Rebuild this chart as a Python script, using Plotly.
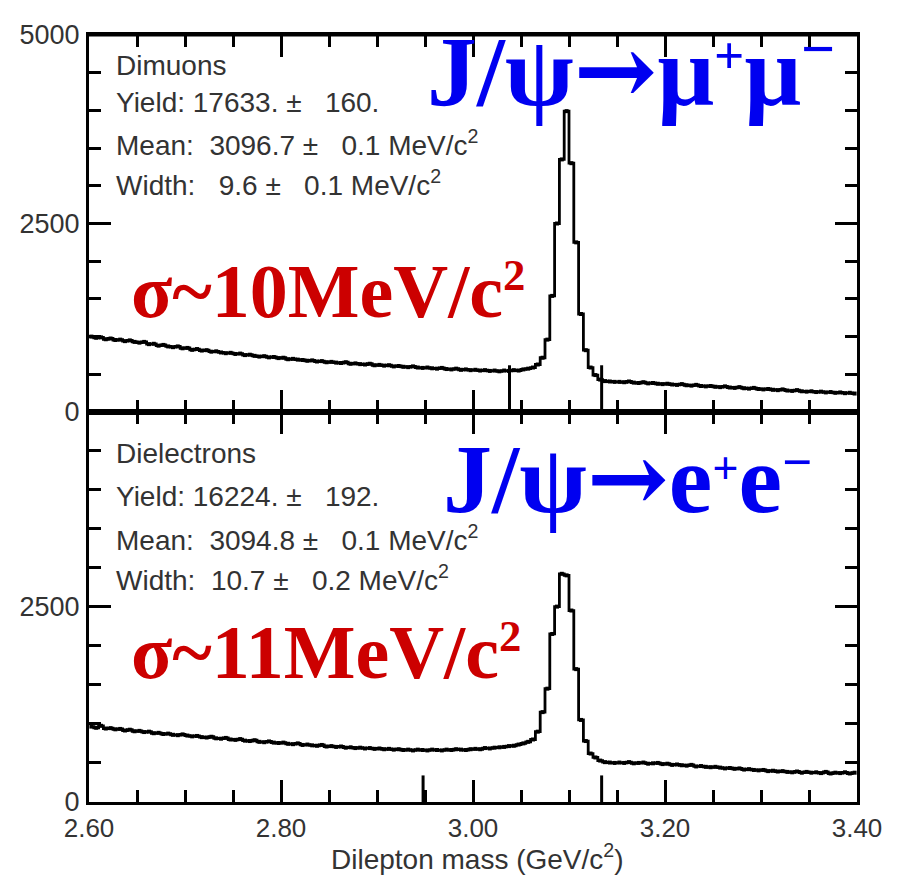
import plotly.graph_objects as go

# ---------------- data ----------------
bin_width = 0.005
mass_lo = 2.60
n_bins = 160

dimuon_counts = [
    1000, 985, 990, 965, 975, 955, 960, 940, 950, 930,
    920, 930, 900, 905, 880, 890, 870, 860, 870, 845,
    850, 825, 835, 815, 820, 800, 805, 790, 780, 785,
    770, 775, 755, 760, 745, 735, 740, 725, 730, 715,
    720, 700, 705, 695, 690, 680, 685, 670, 675, 660,
    665, 655, 650, 660, 640, 645, 635, 630, 640, 620,
    625, 615, 620, 605, 610, 600, 595, 605, 590, 585,
    590, 580, 575, 585, 570, 565, 575, 560, 565, 555,
    560, 550, 555, 545, 550, 540, 550, 545, 555, 550,
    565, 575, 590, 630, 720, 960, 1540, 2500, 3350, 3990,
    3300, 2250, 1300, 820, 590, 490, 430, 410, 405, 400,
    400, 395, 405, 390, 385, 395, 380, 385, 375, 370,
    375, 365, 360, 370, 355, 350, 360, 345, 340, 345,
    335, 330, 340, 325, 320, 330, 315, 310, 320, 305,
    300, 305, 295, 290, 300, 285, 280, 290, 275, 270,
    275, 265, 270, 260, 265, 255, 260, 250, 255, 245,
]

dielectron_counts = [
    965, 950, 975, 940, 945, 930, 935, 915, 925, 905,
    910, 895, 900, 880, 885, 870, 875, 860, 855, 865,
    850, 840, 845, 830, 825, 835, 815, 810, 820, 800,
    795, 805, 785, 780, 790, 770, 765, 775, 760, 755,
    760, 745, 740, 750, 730, 735, 725, 720, 730, 710,
    715, 705, 710, 695, 700, 690, 695, 685, 690, 680,
    685, 675, 680, 670, 675, 665, 670, 660, 670, 665,
    660, 670, 665, 660, 670, 665, 675, 670, 665, 675,
    680, 675, 690, 685, 695, 700, 705, 715, 720, 735,
    750, 770, 800, 900, 1150, 1450, 2150, 2500, 2920, 2900,
    2450, 1700, 1050, 780, 620, 570, 530, 510, 505, 500,
    505, 500, 510, 495, 500, 505, 490, 495, 500, 485,
    490, 475, 480, 470, 465, 475, 455, 460, 450, 445,
    450, 440, 430, 435, 425, 430, 415, 420, 410, 405,
    410, 395, 400, 390, 395, 385, 380, 390, 375, 385,
    375, 380, 370, 385, 365, 375, 370, 380, 365, 375,
]

# fit-window markers (mass, marker height)
mu_marks_x = [3.038, 3.134]
mu_marks_h = 620
ee_marks_x = [2.948, 3.134]
ee_marks_h = 340

x_ticks = [2.60, 2.80, 3.00, 3.20, 3.40]
x_tick_labels = ["2.60", "2.80", "3.00", "3.20", "3.40"]
y_ticks = [0, 2500, 5000]
y_tick_labels = ["0", "2500", "5000"]

NB = "\u00a0"
mu_stats = ["Dimuons",
            f"Yield: 17633.{NB}±{NB*3}160.",
            f"Mean:{NB*2}3096.7{NB}±{NB*3}0.1 MeV/c<sup>2</sup>",
            f"Width:{NB*3}9.6{NB}±{NB*3}0.1 MeV/c<sup>2</sup>"]
ee_stats = ["Dielectrons",
            f"Yield: 16224.{NB}±{NB*3}192.",
            f"Mean:{NB*2}3094.8{NB}±{NB*3}0.1 MeV/c<sup>2</sup>",
            f"Width:{NB*2}10.7{NB}±{NB*3}0.2 MeV/c<sup>2</sup>"]

centers = [mass_lo + bin_width * (i + 0.5) for i in range(n_bins)]

# ---------------- figure ----------------
OFF = 8                                   # page body margin
W, H = 902 - 2 * OFF, 885 - 2 * OFF
PL, PR, PT, PB = 88, 862, 33, 802         # expected plot area in screenshot pixels
L, R, T, B = PL - OFF, (W + OFF) - PR, PT - OFF, (H + OFF) - PB
PW, PH = PR - PL, PB - PT
MID = 411                                 # boundary between the two panels
split = (PB - MID) / PH


def px(xp):
    return (xp - PL) / PW


def py(yp):
    return (PB - yp) / PH


fig = go.Figure()

for counts, xa, ya in [(dimuon_counts, "x", "y"), (dielectron_counts, "x2", "y2")]:
    fig.add_trace(go.Scatter(
        x=centers, y=counts, xaxis=xa, yaxis=ya,
        mode="lines+markers", line=dict(color="black", width=2.8, shape="hvh"),
        marker=dict(color="black", size=4, symbol="square"),
        showlegend=False, hoverinfo="skip"))

for marks, h, xa, ya in [(mu_marks_x, mu_marks_h, "x", "y"), (ee_marks_x, ee_marks_h, "x2", "y2")]:
    xs, ys = [], []
    for m in marks:
        xs += [m, m, None]
        ys += [0, h, None]
    fig.add_trace(go.Scatter(x=xs, y=ys, xaxis=xa, yaxis=ya, mode="lines",
                             line=dict(color="black", width=3),
                             showlegend=False, hoverinfo="skip"))

axis_common = dict(showline=True, linecolor="black", linewidth=3, mirror="allticks",
                   ticks="inside", ticklen=22, tickwidth=3, tickcolor="black",
                   showgrid=False, zeroline=False, ticklabeloverflow="allow")
minor_x = dict(dtick=0.05, tick0=2.6, ticks="inside", ticklen=12, tickwidth=3,
               tickcolor="black", showgrid=False)
minor_y = dict(dtick=500, tick0=0, ticks="inside", ticklen=12, tickwidth=3,
               tickcolor="black", showgrid=False)
xfont = dict(family="Liberation Sans, Arial", size=26, color="#333")
yfont = dict(family="Liberation Sans, Arial", size=27, color="#333")

fig.update_layout(
    width=W, height=H,
    margin=dict(l=L, r=R, t=T, b=B),
    paper_bgcolor="white", plot_bgcolor="white",
    xaxis=dict(domain=[0, 1], anchor="y", range=[2.6, 3.4], tickvals=x_ticks,
               ticktext=x_tick_labels, showticklabels=False, minor=minor_x,
               tickfont=xfont, **axis_common),
    xaxis2=dict(domain=[0, 1], anchor="y2", range=[2.6, 3.4], tickvals=x_ticks,
                ticktext=x_tick_labels, showticklabels=True, ticklabelstandoff=1,
                minor=minor_x, tickfont=xfont, **axis_common),
    yaxis=dict(domain=[split, 1], anchor="x", range=[0, 5000], tickvals=y_ticks,
               ticktext=y_tick_labels, ticklabelstandoff=1, minor=minor_y,
               tickfont=yfont, **axis_common),
    yaxis2=dict(domain=[0, split], anchor="x2", range=[0, 4990], tickvals=y_ticks[:2],
                ticktext=y_tick_labels[:2], ticklabelstandoff=1, minor=minor_y,
                tickfont=yfont, **axis_common),
)

# explicit top edge of the frame
fig.add_shape(type="line", xref="paper", yref="paper", x0=0, x1=1, y0=1, y1=1,
              line=dict(color="black", width=3), layer="above")

ann = []
stat_font = dict(family="Liberation Sans, Arial", size=28, color="#333")
for lines, ys in [(mu_stats, [64, 101, 141, 181]), (ee_stats, [453, 496, 537, 577])]:
    for t, yy in zip(lines, ys):
        ann.append(dict(text=t, x=px(113), y=py(yy), xref="paper", yref="paper",
                        xanchor="left", yanchor="middle", showarrow=False, font=stat_font))


def sup(ch, size):
    return f'<span style="font-size:{size}px"><sup>{ch}</sup></span>'


big_serif = "Liberation Serif, Times New Roman, serif"
arrow = '<span style="font-family:DejaVu Serif">→</span>'
ann.append(dict(text=f"<b>J/ψ{arrow}μ{sup('+', 76)}μ{sup('−', 86)}</b>", x=px(427), y=py(68),
                xref="paper", yref="paper", xanchor="left", yanchor="middle", showarrow=False,
                font=dict(family=big_serif, size=100, color="#0000f0")))
ann.append(dict(text=f"<b>J/ψ{arrow}e{sup('+', 66)}e{sup('−', 76)}</b>", x=px(443), y=py(477),
                xref="paper", yref="paper", xanchor="left", yanchor="middle", showarrow=False,
                font=dict(family=big_serif, size=98, color="#0000f0")))
ann.append(dict(text=f"<b>σ~10MeV/c{sup('2', 64)}</b>", x=px(128), y=py(290),
                xref="paper", yref="paper", xanchor="left", yanchor="middle", showarrow=False,
                font=dict(family=big_serif, size=76, color="#cc0000")))
ann.append(dict(text=f"<b>σ~11MeV/c{sup('2', 64)}</b>", x=px(128), y=py(652),
                xref="paper", yref="paper", xanchor="left", yanchor="middle", showarrow=False,
                font=dict(family=big_serif, size=76, color="#cc0000")))
ann.append(dict(text="Dilepton mass (GeV/c<sup>2</sup>)", x=px(480), y=py(857),
                xref="paper", yref="paper", xanchor="center", yanchor="middle", showarrow=False,
                font=dict(family="Liberation Sans, Arial", size=28, color="#333")))
fig.update_layout(annotations=ann)

fig.write_html("out.html")
